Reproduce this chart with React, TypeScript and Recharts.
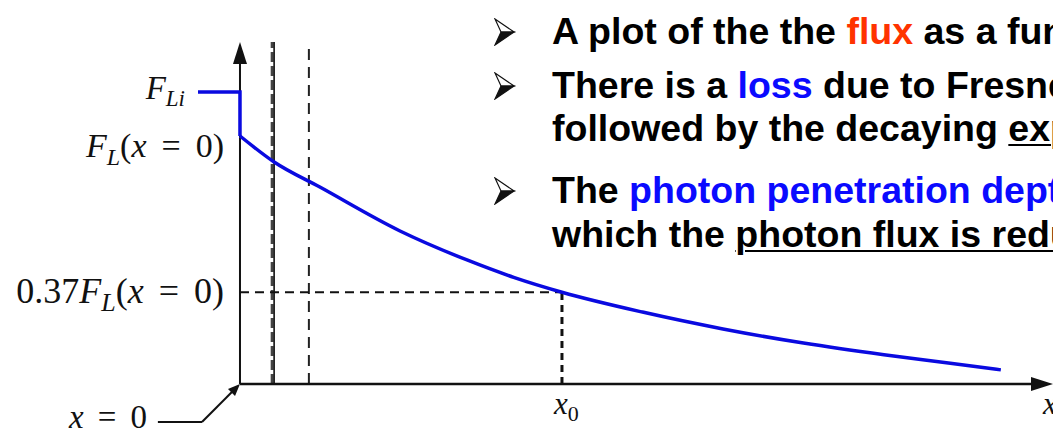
import React from 'react';
import { ComposedChart, Line, XAxis, YAxis, ReferenceLine } from 'recharts';

// Photon flux across the surface step and into the material (x0 = 1, F_L(0) = 1)
const stepDepth = [-0.1304, 0, 0];
const stepFlux = [1.177, 1.177, 1.0];
const depth = [0, 0.106, 0.248, 0.497, 0.705, 0.85, 1.0, 1.25, 1.5, 1.75, 2.0, 2.2, 2.363];
const flux = [1.0, 0.895, 0.794, 0.617, 0.5, 0.43, 0.37, 0.29, 0.222, 0.165, 0.118, 0.085, 0.057];

const fluxTicks = [0.37, 1.0, 1.177];
const depthTicks = [1.0, 2.525];
const depthDomain = [-0.1304, 2.525];
const fluxDomain = [0, 1.379];

const windowEdge = 0.1;
const windowFace = 0.106;
const layerEdge = 0.214;
const penetrationDepth = 1.0;
const fluxFraction = 0.37;

// pointer from the "x = 0" caption to the origin
const pointerStart = { x: -0.255, y: -0.153 };
const pointerBend = { x: -0.118, y: -0.153 };

const stepData = stepDepth.map((x, i) => ({ x, f: stepFlux[i] }));
const curveData = depth.map((x, i) => ({ x, f: flux[i] }));

const SERIF = '"Liberation Serif", "Times New Roman", serif';
const SANS = '"Liberation Sans", Arial, sans-serif';
const BLUE = '#0a0ae0';

const near = (a: number, b: number) => Math.abs(a - b) < 1e-6;

function FluxTick(props: any) {
  const { x, y, payload } = props;
  const v = payload.value;
  if (near(v, fluxTicks[2])) {
    return (
      <text x={x - 13} y={y + 7} textAnchor="end" fontFamily={SERIF} fontSize={33} fill="#111">
        <tspan fontStyle="italic">F</tspan>
        <tspan fontStyle="italic" fontSize={23} dy={7}>Li</tspan>
      </text>
    );
  }
  if (near(v, fluxTicks[1])) {
    return (
      <text x={x + 26} y={y + 21} textAnchor="end" fontFamily={SERIF} fontSize={34} fill="#111">
        <tspan fontStyle="italic">F</tspan>
        <tspan fontStyle="italic" fontSize={24} dy={8}>L</tspan>
        <tspan dy={-8}>(</tspan>
        <tspan fontStyle="italic">x</tspan>
        <tspan dx={15}>=</tspan>
        <tspan dx={15}>0)</tspan>
      </text>
    );
  }
  return (
    <text x={x + 26} y={y + 11} textAnchor="end" fontFamily={SERIF} fontSize={36} fill="#111">
      <tspan>0.37</tspan>
      <tspan fontStyle="italic">F</tspan>
      <tspan fontStyle="italic" fontSize={26} dy={8}>L</tspan>
      <tspan dy={-8}>(</tspan>
      <tspan fontStyle="italic">x</tspan>
      <tspan dx={15}>=</tspan>
      <tspan dx={15}>0)</tspan>
    </text>
  );
}

function DepthTick(props: any) {
  const { x, y, payload } = props;
  if (near(payload.value, depthTicks[0])) {
    return (
      <text x={x - 8} y={y + 30} fontFamily={SERIF} fontSize={31} fill="#111">
        <tspan fontStyle="italic">x</tspan>
        <tspan fontSize={22} dy={7}>0</tspan>
      </text>
    );
  }
  return (
    <text x={x - 10} y={y + 30} fontFamily={SERIF} fontSize={31} fontStyle="italic" fill="#111">
      x
    </text>
  );
}

// axis line ending in a filled arrowhead at its second point
function arrowLine(size: number, half: number, width: number) {
  return (p: any) => {
    const { x1, y1, x2, y2 } = p;
    const dx = x2 - x1;
    const dy = y2 - y1;
    const len = Math.hypot(dx, dy) || 1;
    const ux = dx / len;
    const uy = dy / len;
    const bx = x2 - ux * size;
    const by = y2 - uy * size;
    const pts = `${x2},${y2} ${bx - uy * half},${by + ux * half} ${bx + uy * half},${by - ux * half}`;
    return (
      <g>
        <line x1={x1} y1={y1} x2={bx + ux * 2} y2={by + uy * 2} stroke="#111" strokeWidth={width} />
        <polygon points={pts} fill="#111" />
      </g>
    );
  };
}

function captionLine(p: any) {
  const { x1, y1, x2, y2 } = p;
  return (
    <g>
      <line x1={x1} y1={y1} x2={x2} y2={y2} stroke="#111" strokeWidth={2} />
      <text x={x1 - 11} y={y1 + 6} textAnchor="end" fontFamily={SERIF} fontSize={33} fill="#111">
        <tspan fontStyle="italic">x</tspan>
        <tspan dx={14}>=</tspan>
        <tspan dx={14}>0</tspan>
      </text>
    </g>
  );
}

function Bullet({ top }: { top: number }) {
  return (
    <svg width={22} height={28} style={{ position: 'absolute', left: 494, top }}>
      <polygon points="1,1 20,14 7,14" fill="#fff" stroke="#111" strokeWidth={1.2} />
      <polygon points="7,14 20,14 1,27" fill="#111" stroke="#111" strokeWidth={1.2} />
    </svg>
  );
}

const lineStyle: React.CSSProperties = {
  position: 'absolute',
  left: 552,
  whiteSpace: 'nowrap',
  fontFamily: SANS,
  fontWeight: 'bold',
  fontSize: 37.5,
  lineHeight: '36px',
  color: '#000',
};
const u: React.CSSProperties = { textDecoration: 'underline', textDecorationThickness: 2, textUnderlineOffset: 3 };

export default function App() {
  return (
    <div style={{ position: 'absolute', left: 0, top: 0, width: 1053, height: 436, overflow: 'hidden', background: '#fff' }}>
      <ComposedChart width={1053} height={436} margin={{ top: 42, right: 0, bottom: 0, left: 0 }}>
        <XAxis
          type="number"
          dataKey="x"
          domain={depthDomain}
          allowDataOverflow
          ticks={depthTicks}
          interval={0}
          height={52}
          axisLine={false}
          tickLine={false}
          tickSize={0}
          tickMargin={0}
          tick={<DepthTick />}
        />
        <YAxis
          type="number"
          dataKey="f"
          domain={fluxDomain}
          allowDataOverflow
          ticks={fluxTicks}
          interval={0}
          width={198}
          axisLine={false}
          tickLine={false}
          tickSize={0}
          tickMargin={0}
          tick={<FluxTick />}
        />
        <ReferenceLine x={windowEdge} stroke="#444" strokeWidth={3} strokeDasharray="10 4" />
        <ReferenceLine x={windowFace} stroke="#111" strokeWidth={1.6} />
        <ReferenceLine x={layerEdge} stroke="#222" strokeWidth={2} strokeDasharray="11 7" />
        <ReferenceLine
          segment={[{ x: 0, y: fluxFraction }, { x: penetrationDepth, y: fluxFraction }]}
          stroke="#111"
          strokeWidth={2}
          strokeDasharray="9 6"
          ifOverflow="visible"
        />
        <ReferenceLine
          segment={[{ x: penetrationDepth, y: 0 }, { x: penetrationDepth, y: fluxFraction }]}
          stroke="#111"
          strokeWidth={3}
          strokeDasharray="7 5"
          ifOverflow="visible"
        />
        <ReferenceLine
          segment={[{ x: 0, y: 0 }, { x: 0, y: fluxDomain[1] }]}
          ifOverflow="visible"
          shape={arrowLine(22, 7, 2)}
        />
        <ReferenceLine
          segment={[{ x: 0, y: 0 }, { x: depthDomain[1], y: 0 }]}
          ifOverflow="visible"
          shape={arrowLine(22, 7, 2.5)}
        />
        <ReferenceLine
          segment={[pointerStart, pointerBend]}
          ifOverflow="visible"
          shape={captionLine}
        />
        <ReferenceLine
          segment={[pointerBend, { x: 0, y: 0 }]}
          ifOverflow="visible"
          shape={arrowLine(12, 5, 2)}
        />
        <Line
          data={stepData}
          dataKey="f"
          type="linear"
          stroke={BLUE}
          strokeWidth={3.5}
          dot={false}
          activeDot={false}
          isAnimationActive={false}
        />
        <Line
          data={curveData}
          dataKey="f"
          type="monotone"
          stroke={BLUE}
          strokeWidth={3.5}
          dot={false}
          activeDot={false}
          isAnimationActive={false}
        />
      </ComposedChart>

      <Bullet top={18} />
      <div style={{ ...lineStyle, top: 13 }}>
        A plot of the the <span style={{ color: '#ff3300' }}>flux</span> as a function of distance
      </div>
      <Bullet top={72} />
      <div style={{ ...lineStyle, top: 67 }}>
        There is a <span style={{ color: '#0a0aff' }}>loss</span> due to Fresnel reflection
      </div>
      <div style={{ ...lineStyle, top: 110 }}>
        followed by the decaying <span style={u}>exponential</span>
      </div>
      <Bullet top={177} />
      <div style={{ ...lineStyle, top: 172 }}>
        The <span style={{ color: '#0a0aff' }}>photon penetration depth</span> is defined
      </div>
      <div style={{ ...lineStyle, top: 216 }}>
        which the <span style={u}>photon flux is reduced</span>
      </div>
    </div>
  );
}
